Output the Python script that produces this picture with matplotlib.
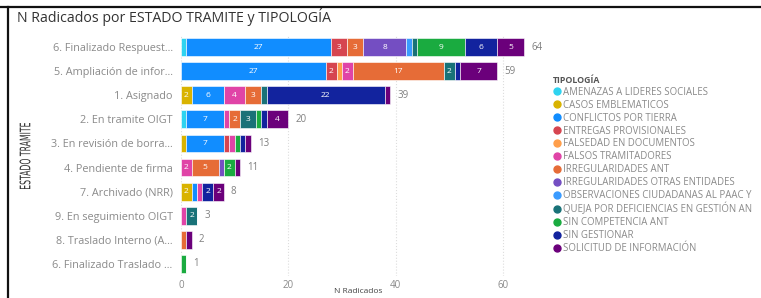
import numpy as np
import matplotlib
matplotlib.use("Agg")
import matplotlib.pyplot as plt
from matplotlib.lines import Line2D
from matplotlib.textpath import TextPath
from matplotlib.patches import PathPatch
from matplotlib.transforms import Affine2D
from matplotlib.font_manager import FontProperties

plt.rcParams['font.family'] = ['Open Sans', 'DejaVu Sans']

# estados, top to bottom
estados = [
    "6. Finalizado Respuest...",
    "5. Ampliación de infor...",
    "1. Asignado",
    "2. En tramite OIGT",
    "3. En revisión de borra...",
    "4. Pendiente de firma",
    "7. Archivado (NRR)",
    "9. En seguimiento OIGT",
    "8. Traslado Interno (A...",
    "6. Finalizado Traslado ...",
]

tipologias = [
    "AMENAZAS A LIDERES SOCIALES",
    "CASOS EMBLEMATICOS",
    "CONFLICTOS POR TIERRA",
    "ENTREGAS PROVISIONALES",
    "FALSEDAD EN DOCUMENTOS",
    "FALSOS TRAMITADORES",
    "IRREGULARIDADES ANT",
    "IRREGULARIDADES OTRAS ENTIDADES",
    "OBSERVACIONES CIUDADANAS AL PAAC Y",
    "QUEJA POR DEFICIENCIAS EN GESTIÓN AN",
    "SIN COMPETENCIA ANT",
    "SIN GESTIONAR",
    "SOLICITUD DE INFORMACIÓN",
]

colores = ["#2ED3F0", "#D9B300", "#118DFF", "#D64550", "#FF9E4A", "#E044A7",
           "#E66C37", "#744EC2", "#3A9BFF", "#197278", "#1AAB40", "#12239E",
           "#6B007B"]

# rows follow estados, columns follow tipologias
valores = np.array([
    [1, 0, 27, 3, 0, 0, 3, 8, 1, 1, 9, 6, 5],
    [0, 0, 27, 2, 1, 2, 17, 0, 0, 2, 0, 1, 7],
    [0, 2, 6, 0, 0, 4, 3, 0, 0, 1, 0, 22, 1],
    [1, 0, 7, 0, 0, 1, 2, 0, 0, 3, 1, 1, 4],
    [0, 1, 7, 1, 0, 1, 0, 0, 0, 0, 1, 1, 1],
    [0, 0, 0, 0, 0, 2, 5, 1, 0, 0, 2, 0, 1],
    [0, 2, 1, 0, 0, 1, 0, 0, 0, 0, 0, 2, 2],
    [0, 0, 0, 0, 0, 1, 0, 0, 0, 2, 0, 0, 0],
    [0, 0, 0, 0, 0, 0, 1, 0, 0, 0, 0, 0, 1],
    [0, 0, 0, 0, 0, 0, 0, 0, 0, 0, 1, 0, 0],
])

fig = plt.figure(figsize=(7.61, 2.98), dpi=100)
ax = fig.add_axes([181 / 761, 1 - 276 / 298, 354 / 761, 241 / 298])

y = np.arange(len(estados))
left = np.zeros(len(estados))
for j, tip in enumerate(tipologias):
    v = valores[:, j]
    ax.barh(y, v, left=left, height=0.74, color=colores[j],
            edgecolor="white", linewidth=0.4)
    for i in range(len(estados)):
        if v[i] >= 2:
            ax.text(left[i] + v[i] / 2, y[i], str(v[i]), ha="center",
                    va="center", color="white", fontsize=6)
    left += v

totales = valores.sum(axis=1)
for i, t in enumerate(totales):
    ax.text(t + 1.3, y[i], str(t), ha="left", va="center",
            color="#808080", fontsize=7)

ax.set_ylim(len(estados) - 0.5, -0.5)
ax.set_xlim(0, 66)
ax.set_yticks(y)
ax.set_yticklabels(estados, fontsize=7.8, color="#8a8a8a")
ax.set_xticks([0, 20, 40, 60])
ax.set_xticklabels(["0", "20", "40", "60"], fontsize=7, color="#8a8a8a")
ax.tick_params(axis="y", length=0, pad=6)
ax.tick_params(axis="x", length=0, pad=3)
for s in ax.spines.values():
    s.set_visible(False)
ax.grid(axis="x", linestyle=":", color="#dddddd", linewidth=0.8)
ax.set_axisbelow(True)
ax.set_xlabel("N Radicados", fontsize=6, color="#444444", labelpad=-2)

fig.text(17 / 761, 1 - 17 / 298, "N Radicados por ESTADO TRAMITE y TIPOLOGÍA",
         fontsize=10.2, color="#333333", va="center", ha="left")

# condensed vertical axis title
tp = TextPath((0, 0), "ESTADO TRAMITE", size=12, prop=FontProperties(family="DejaVu Sans"))
bb = tp.get_extents()
tr = (Affine2D().translate(-bb.x0 - bb.width / 2, -bb.y0 - bb.height / 2)
      .scale(66 / bb.width, 11 / bb.height).rotate_deg(90)
      .translate(25, 298 - 156))
fig.add_artist(PathPatch(tp, transform=tr, facecolor="#333333", edgecolor="none"))

# frame lines of the screenshot
fig.add_artist(Line2D([0, 1], [1 - 7 / 298, 1 - 7 / 298], color="#111111", linewidth=1.6))
fig.add_artist(Line2D([8 / 761, 8 / 761], [0, 1 - 7 / 298], color="#111111", linewidth=1.6))

handles = [Line2D([], [], marker="o", linestyle="", color=c, markersize=5)
           for c in colores]
leg = fig.legend(handles, tipologias, loc="upper left",
                 bbox_to_anchor=(549 / 761, 1 - 72 / 298), frameon=False,
                 fontsize=6.9, title="TIPOLOGÍA", title_fontsize=6.3,
                 handletextpad=0.15, handlelength=0.9, labelspacing=0.2,
                 borderaxespad=0)
leg._legend_box.align = "left"
for t in leg.get_texts():
    t.set_color("#8a8a8a")
leg.get_title().set_color("#555555")
leg.get_title().set_fontweight("bold")

fig.savefig("out.png", dpi=100)
